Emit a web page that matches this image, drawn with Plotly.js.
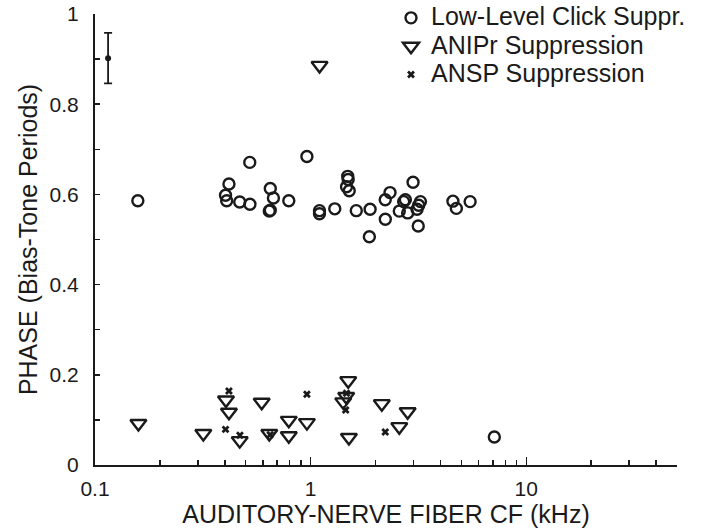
<!DOCTYPE html>
<html>
<head>
<meta charset="utf-8">
<script src="https://cdn.plot.ly/plotly-3.0.1.min.js"></script>
<style>html,body{margin:0;padding:0;background:#fff;}#chart{width:706px;height:531px;}</style>
</head>
<body>
<div id="chart"></div>
<script>
// Low-Level Click Suppression (circles)
const clickCF = [0.158, 0.522, 0.961, 0.418, 0.403, 0.408, 0.469, 0.523, 0.650, 0.672,
  0.643, 0.650, 0.792, 1.099, 1.099, 1.294, 1.628, 1.887, 1.486, 1.493,
  1.467, 1.510, 1.872, 2.218, 2.334, 2.22, 2.985, 2.75, 2.70, 2.577,
  2.818, 3.155, 3.23, 3.17, 3.115, 4.57, 4.74, 5.49, 7.11];
const clickPhase = [0.586, 0.671, 0.684, 0.623, 0.598, 0.586, 0.583, 0.578, 0.613, 0.592,
  0.563, 0.565, 0.586, 0.564, 0.557, 0.568, 0.564, 0.567, 0.640, 0.633,
  0.617, 0.608, 0.506, 0.588, 0.604, 0.545, 0.627, 0.588, 0.584, 0.563,
  0.559, 0.530, 0.584, 0.576, 0.567, 0.585, 0.569, 0.584, 0.062];

// ANIPr Suppression (down triangles)
const aniprCF = [0.159, 0.318, 0.405, 0.418, 0.469, 0.593, 0.643, 0.792, 0.792, 0.961,
  1.10, 1.494, 1.462, 1.416, 1.505, 2.138, 2.818, 2.577];
const aniprPhase = [0.092, 0.070, 0.144, 0.117, 0.054, 0.139, 0.070, 0.099, 0.065, 0.094,
  0.886, 0.187, 0.152, 0.140, 0.061, 0.136, 0.118, 0.085];

// ANSP Suppression (x marks)
const anspCF = [0.418, 0.403, 0.470, 0.649, 0.961, 1.467, 1.454, 2.218];
const anspPhase = [0.164, 0.079, 0.066, 0.067, 0.157, 0.159, 0.122, 0.073];

// Representative error bar
const errCF = [0.115];
const errPhase = [0.902];
const errSize = [0.056];

const seriesNames = ['Low-Level Click Suppr.', 'ANIPr Suppression', 'ANSP Suppression'];
const xTickVals = [0.1, 1, 10];
const xTickText = ["0.1", "1", "10"];
const xMinorVals = [0.2,0.3,0.4,0.5,0.6,0.7,0.8,0.9,2,3,4,5,6,7,8,9,20,30,40,50];
const yTickVals = [0, 0.2, 0.4, 0.6, 0.8, 1];
const yTickText = ["0", "0.2", "0.4", "0.6", "0.8", "1"];
const yMinorVals = [0.1, 0.3, 0.5, 0.7, 0.9];

const ink = '#1a1a1a';
const FONT = 'Liberation Sans, Arial, Helvetica, sans-serif';
const legLabel = s => '<span style="font-size:25px">' + s + '</span>';

const traces = [
  {x: clickCF, y: clickPhase, type: 'scatter', mode: 'markers', name: legLabel(seriesNames[0]),
   marker: {symbol: 'circle-open', size: 11, color: ink, line: {width: 2.4, color: ink}}},
  {x: aniprCF, y: aniprPhase, type: 'scatter', mode: 'markers', name: legLabel(seriesNames[1]),
   marker: {symbol: 'triangle-down-open', size: 14, color: ink, line: {width: 2.4, color: ink}}},
  {x: anspCF, y: anspPhase, type: 'scatter', mode: 'markers', name: legLabel(seriesNames[2]),
   marker: {symbol: 'x', size: 7, color: ink, line: {width: 0}}},
  {x: errCF, y: errPhase, type: 'scatter', mode: 'markers', showlegend: false,
   marker: {symbol: 'circle', size: 6, color: ink},
   error_y: {type: 'data', array: errSize, visible: true, color: ink, thickness: 1.8, width: 4}}
];

const layout = {
  width: 706, height: 531,
  margin: {l: 95, r: 29, t: 14, b: 66, autoexpand: false},
  paper_bgcolor: '#fff', plot_bgcolor: '#fff',
  font: {family: FONT, color: ink, size: 18},
  showlegend: true,
  legend: {x: 0.5086, y: 1.034, xanchor: 'left', yanchor: 'top', bgcolor: 'rgba(0,0,0,0)',
           font: {size: 19.5, family: FONT, color: ink}, tracegroupgap: 0},
  xaxis: {
    type: 'log', range: [-1, Math.log10(50)],
    tickmode: 'array', tickvals: xTickVals, ticktext: xTickText,
    ticks: 'inside', ticklen: 8, tickwidth: 1.5, tickcolor: ink,
    minor: {tickmode: 'array', tickvals: xMinorVals, ticks: 'inside', ticklen: 5, tickwidth: 1.5, tickcolor: ink},
    showgrid: false, zeroline: false, showline: true, linecolor: ink, linewidth: 2,
    tickfont: {size: 21, family: FONT, color: ink}, ticklabelstandoff: 4,
    title: {text: 'AUDITORY-NERVE FIBER CF (kHz)', font: {size: 25, family: FONT, color: ink}, standoff: 5}
  },
  yaxis: {
    range: [0, 1],
    tickmode: 'array', tickvals: yTickVals, ticktext: yTickText,
    ticks: 'inside', ticklen: 5, tickwidth: 1.5, tickcolor: ink,
    minor: {tickmode: 'array', tickvals: yMinorVals, ticks: 'inside', ticklen: 5, tickwidth: 1.5, tickcolor: ink},
    showgrid: false, zeroline: false, showline: true, linecolor: ink, linewidth: 2,
    tickfont: {size: 21, family: FONT, color: ink}, ticklabelstandoff: 10,
    title: {text: 'PHASE (Bias-Tone Periods)', font: {size: 25, family: FONT, color: ink}, standoff: 5}
  }
};

Plotly.newPlot('chart', traces, layout, {displayModeBar: false, staticPlot: true});
</script>
</body>
</html>
